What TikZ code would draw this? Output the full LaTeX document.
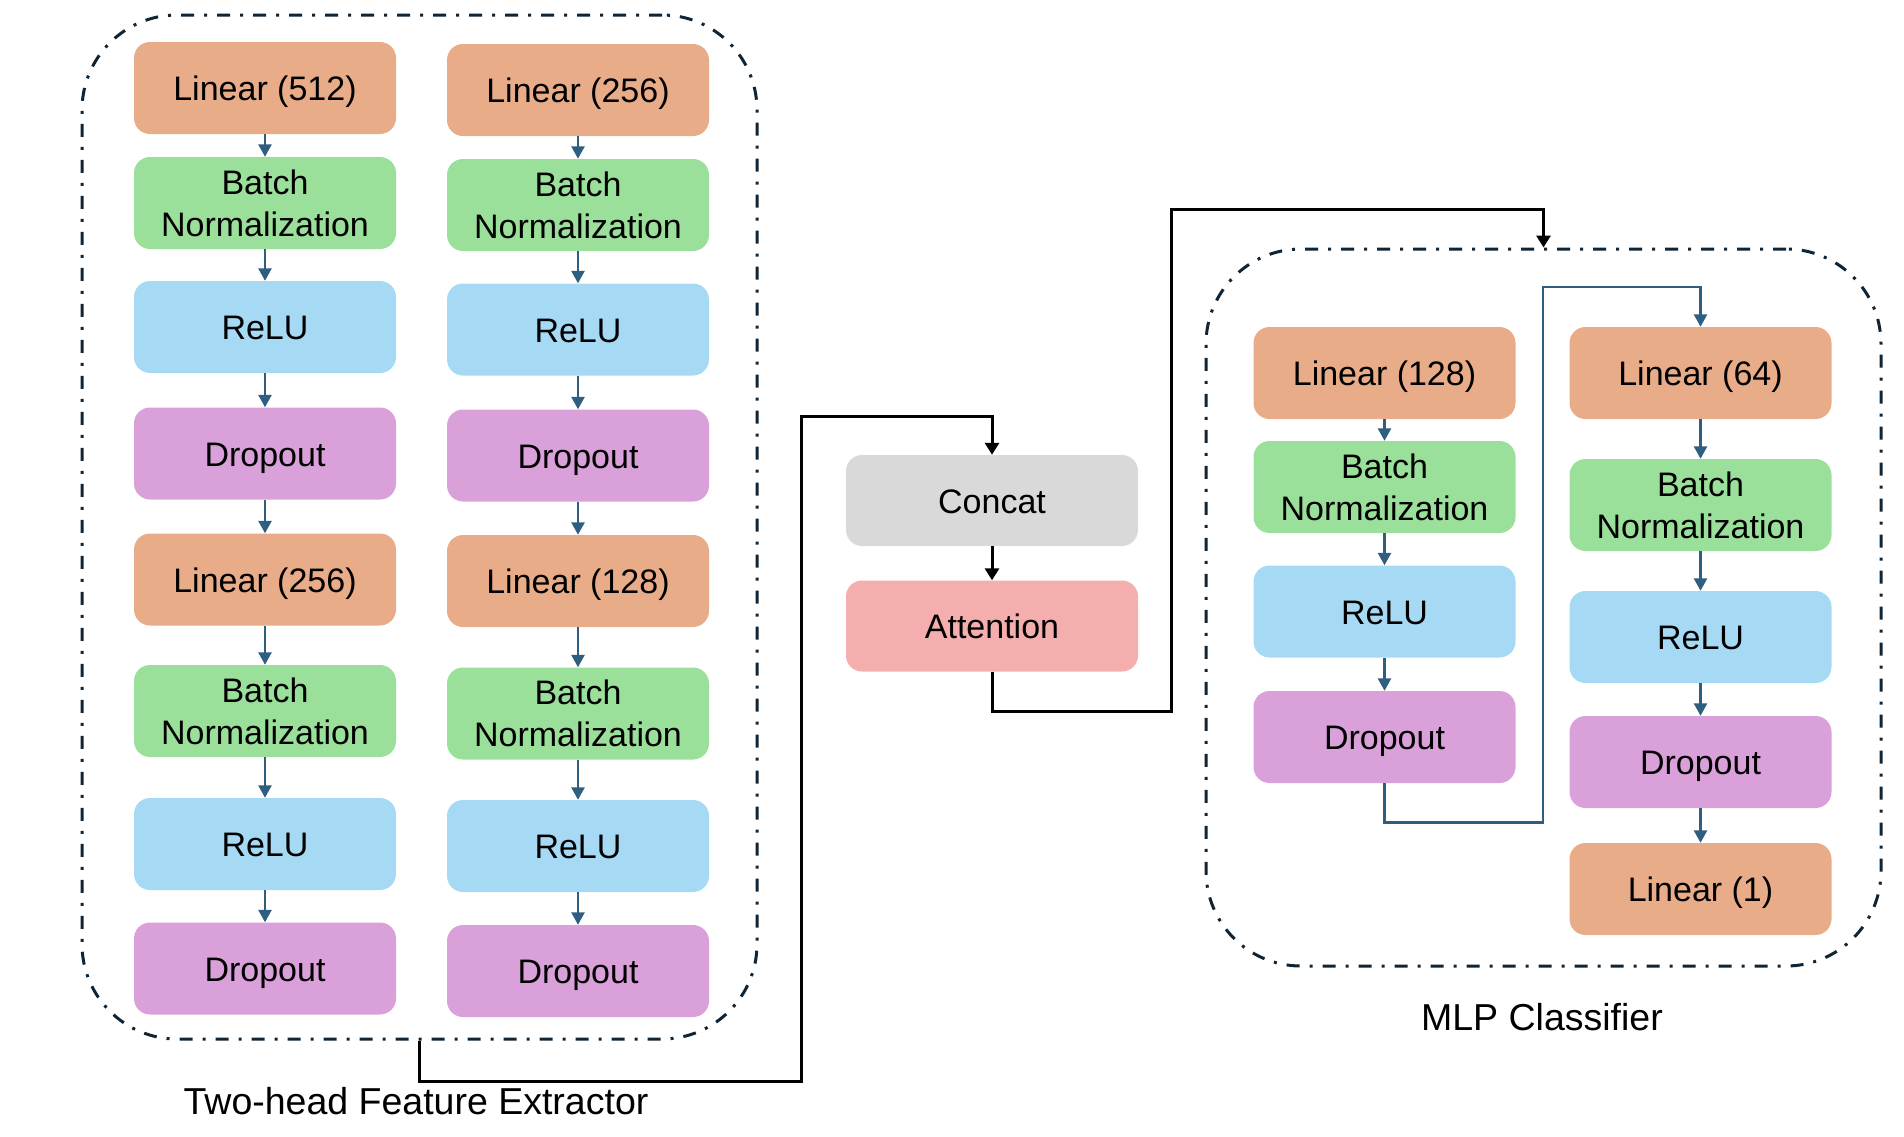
\documentclass[tikz,border=0pt]{standalone}
\usepackage{fontspec}
\setmainfont{Liberation Sans}
\usetikzlibrary{arrows.meta}
\definecolor{linclr}{HTML}{E8AC89}
\definecolor{bnclr}{HTML}{9BE09A}
\definecolor{reluclr}{HTML}{A6DAF4}
\definecolor{dropclr}{HTML}{DAA0D9}
\definecolor{catclr}{HTML}{D9D9D9}
\definecolor{attclr}{HTML}{F4AEAE}
\definecolor{flowclr}{HTML}{2F5F80}
\definecolor{frameclr}{HTML}{0F2535}
\begin{document}
\begin{tikzpicture}[x=1pt,y=-1pt,
  layer/.style={rounded corners=16pt, minimum width=262pt, minimum height=92pt,
    inner sep=0pt, align=center, font=\fontsize{34}{42}\selectfont},
  oneline/.style={text height=25pt, text depth=0pt},
  lin/.style={layer, oneline, fill=linclr},
  bn/.style={layer, fill=bnclr},
  relu/.style={layer, oneline, fill=reluclr},
  drop/.style={layer, oneline, fill=dropclr},
  wide/.style={layer, oneline, minimum width=292pt, minimum height=91pt},
  flow/.style={draw=flowclr, line width=2.6pt, -{Triangle[width=13pt,length=12.5pt]}},
  main/.style={draw=black, line width=3pt, -{Triangle[width=14pt,length=12pt]}},
  frame/.style={draw=frameclr, line width=3pt,
    dash pattern=on 13pt off 10pt on 3pt off 10pt, rounded corners=95pt},
  caption/.style={font=\fontsize{37.5}{44}\selectfont}]
     \useasboundingbox (0,0) rectangle (1904,1136);
     % containers
     \node[frame, minimum width=675pt, minimum height=1024pt] (fe) at (419.5,527) {};
     \node[frame, minimum width=675pt, minimum height=717pt] (mlp) at (1543.5,607.5) {};
     \node[caption] (felabel) at (416,1101) {Two-head Feature Extractor};
     \node[caption] (mlplabel) at (1542,1017) {MLP Classifier};
     % first head
     \node[lin]  (al1) at (265,88)    {Linear (512)};
     \node[bn]   (ab1) at (265,203)   {Batch\\Normalization};
     \node[relu] (ar1) at (265,327)   {ReLU};
     \node[drop] (ad1) at (265,453.5) {Dropout};
     \node[lin]  (al2) at (265,579.5) {Linear (256)};
     \node[bn]   (ab2) at (265,711)   {Batch\\Normalization};
     \node[relu] (ar2) at (265,844)   {ReLU};
     \node[drop] (ad2) at (265,968.5) {Dropout};
     % second head
     \node[lin]  (bl1) at (578,90)    {Linear (256)};
     \node[bn]   (bb1) at (578,205)   {Batch\\Normalization};
     \node[relu] (br1) at (578,329.5) {ReLU};
     \node[drop] (bd1) at (578,455.5) {Dropout};
     \node[lin]  (bl2) at (578,581)   {Linear (128)};
     \node[bn]   (bb2) at (578,713.5) {Batch\\Normalization};
     \node[relu] (br2) at (578,846)   {ReLU};
     \node[drop] (bd2) at (578,971)   {Dropout};
     % fusion
     \node[wide, fill=catclr] (concat) at (992,500.5) {Concat};
     \node[wide, fill=attclr] (att) at (992,626) {Attention};
     % classifier
     \node[lin]  (cl1) at (1384.5,373) {Linear (128)};
     \node[bn]   (cb1) at (1384.5,487) {Batch\\Normalization};
     \node[relu] (cr1) at (1384.5,611.5) {ReLU};
     \node[drop] (cd1) at (1384.5,737) {Dropout};
     \node[lin]  (cl2) at (1700.5,373) {Linear (64)};
     \node[bn]   (cb2) at (1700.5,505) {Batch\\Normalization};
     \node[relu] (cr2) at (1700.5,637) {ReLU};
     \node[drop] (cd2) at (1700.5,762) {Dropout};
     \node[lin]  (cl3) at (1700.5,889) {Linear (1)};
     % arrows inside the heads
     \draw[flow] (al1) -- (ab1);
     \draw[flow] (ab1) -- (ar1);
     \draw[flow] (ar1) -- (ad1);
     \draw[flow] (ad1) -- (al2);
     \draw[flow] (al2) -- (ab2);
     \draw[flow] (ab2) -- (ar2);
     \draw[flow] (ar2) -- (ad2);
     \draw[flow] (bl1) -- (bb1);
     \draw[flow] (bb1) -- (br1);
     \draw[flow] (br1) -- (bd1);
     \draw[flow] (bd1) -- (bl2);
     \draw[flow] (bl2) -- (bb2);
     \draw[flow] (bb2) -- (br2);
     \draw[flow] (br2) -- (bd2);
     % arrows inside the classifier
     \draw[flow] (cl1) -- (cb1);
     \draw[flow] (cb1) -- (cr1);
     \draw[flow] (cr1) -- (cd1);
     \draw[flow] (cl2) -- (cb2);
     \draw[flow] (cb2) -- (cr2);
     \draw[flow] (cr2) -- (cd2);
     \draw[flow] (cd2) -- (cl3);
     \coordinate (bend3) at (1543,287);
     \draw[flow] (cd1.south) -- ++(0,39) -| (bend3) -| (cl2.north);
     % main path
     \draw[main] (concat) -- (att);
     \coordinate (bend1) at (801,416);
     \draw[main] (fe.south) -- ++(0,41) -| (bend1) -| (concat.north);
     \coordinate (bend2) at (1171,209);
     \draw[main] (att.south) -- ++(0,40) -| (bend2) -| (mlp.north);
\end{tikzpicture}
\end{document}
